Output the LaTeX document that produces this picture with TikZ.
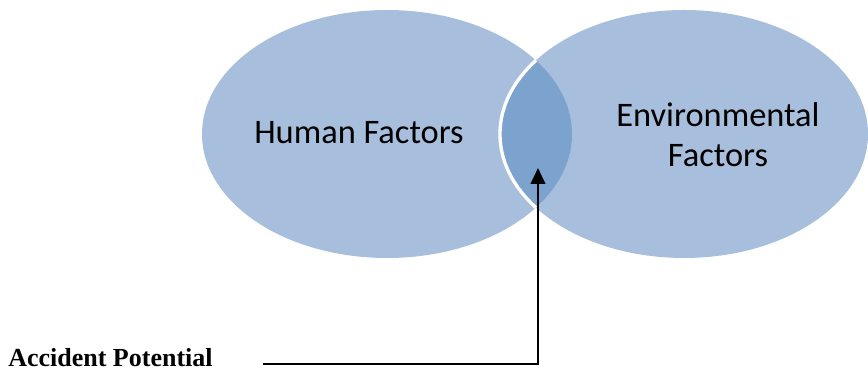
\documentclass[tikz,border=0pt]{standalone}
\usepackage{fontspec}
\setmainfont{Liberation Serif}
\newfontfamily\vennfont{Carlito}
\usetikzlibrary{arrows.meta}

\definecolor{vennfill}{HTML}{A7BFDD}
\definecolor{venndark}{HTML}{7CA2CE}

\tikzset{
  venntext/.style={font=\vennfont\fontsize{25.8}{30}\selectfont, align=center},
  pointer/.style={line width=1.5pt, -{Triangle[length=12pt,width=11pt]}}
}

\begin{document}
\begin{tikzpicture}[x=0.75pt,y=-0.75pt]
  \useasboundingbox (0,0) rectangle (868,373);
  \coordinate (hum) at (387,134);
  \coordinate (env) at (684,134);

  % the two sets
  \fill[vennfill] (hum) ellipse [x radius=185, y radius=124];
  \fill[vennfill] (env) ellipse [x radius=184, y radius=124];
  \begin{scope}
    \clip (hum) ellipse [x radius=185, y radius=124];
    \fill[venndark] (env) ellipse [x radius=184, y radius=124];
    \draw[white, line width=2.5pt] (env) ellipse [x radius=184, y radius=124];
  \end{scope}

  \node[venntext] (human) at (359,133) {Human Factors};
  \node[venntext] (envir) at (718,135) {Environmental\\Factors};

  % label and its pointer into the overlap
  \node[font=\bfseries\fontsize{19.5}{23}\selectfont, anchor=base west, inner sep=0pt] (acc) at (8,367) {Accident Potential};
  \coordinate (start) at (263,364.5);
  \coordinate (tip) at (538,168);
  \draw[pointer] (start) -| (tip);
\end{tikzpicture}
\end{document}
